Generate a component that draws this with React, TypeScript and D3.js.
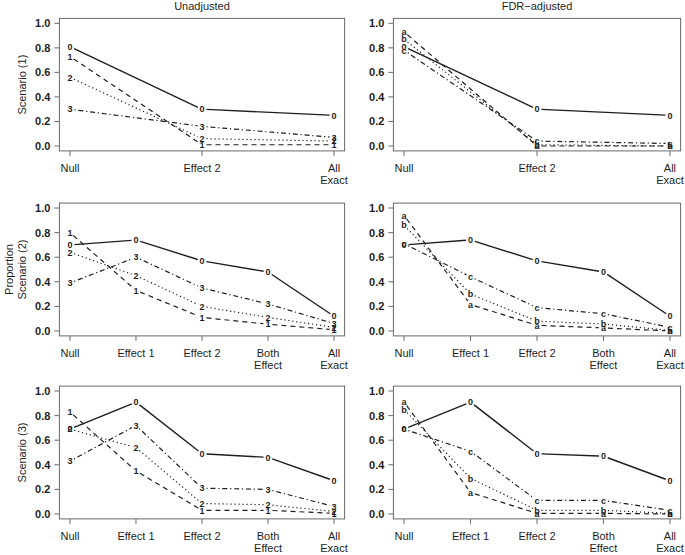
import React from "react";
import * as d3 from "d3";

// ---------- data ----------
const catsShort = ["Null", "Effect 2", "All\nExact"];
const catsShortPos = [1, 3, 5];
const catsLong = ["Null", "Effect 1", "Effect 2", "Both\nEffect", "All\nExact"];
const catsLongPos = [1, 2, 3, 4, 5];
const yTicks = [0, 0.2, 0.4, 0.6, 0.8, 1.0];
const colTitles = ["Unadjusted", "FDR\u2212adjusted"];
const rowLabels = ["Scenario (1)", "Scenario (2)", "Scenario (3)"];

const unadjKeys = ["0", "1", "2", "3"];
const fdrKeys = ["0", "a", "b", "c"];

// Scenario 1 (Null, Effect 2, All Exact)
const s1Unadj0 = [0.81, 0.30, 0.25];
const s1Unadj1 = [0.73, 0.01, 0.01];
const s1Unadj2 = [0.56, 0.06, 0.04];
const s1Unadj3 = [0.30, 0.16, 0.07];
const s1Fdr0 = [0.81, 0.30, 0.25];
const s1FdrA = [0.93, 0.00, 0.00];
const s1FdrB = [0.87, 0.01, 0.00];
const s1FdrC = [0.78, 0.04, 0.02];

// Scenario 2 (Null, Effect 1, Effect 2, Both Effect, All Exact)
const s2Unadj0 = [0.70, 0.74, 0.57, 0.48, 0.12];
const s2Unadj1 = [0.80, 0.33, 0.11, 0.055, 0.01];
const s2Unadj2 = [0.64, 0.45, 0.20, 0.11, 0.03];
const s2Unadj3 = [0.39, 0.60, 0.35, 0.22, 0.06];
const s2Fdr0 = [0.70, 0.74, 0.57, 0.48, 0.12];
const s2FdrA = [0.94, 0.215, 0.046, 0.025, 0.0];
const s2FdrB = [0.86, 0.30, 0.08, 0.057, 0.005];
const s2FdrC = [0.71, 0.44, 0.19, 0.14, 0.03];

// Scenario 3
const s3Unadj0 = [0.69, 0.91, 0.49, 0.46, 0.27];
const s3Unadj1 = [0.83, 0.35, 0.03, 0.03, 0.005];
const s3Unadj2 = [0.69, 0.54, 0.085, 0.075, 0.02];
const s3Unadj3 = [0.43, 0.72, 0.21, 0.20, 0.06];
const s3Fdr0 = [0.69, 0.91, 0.49, 0.47, 0.27];
const s3FdrA = [0.91, 0.175, 0.005, 0.005, 0.0];
const s3FdrB = [0.85, 0.29, 0.03, 0.03, 0.005];
const s3FdrC = [0.69, 0.51, 0.11, 0.11, 0.03];

// ---------- layout ----------
const W = 685;
const H = 555;
const colRanges: [number, number][] = [
  [59.4, 344.6],
  [393.4, 680.6],
];
const rowRanges: [number, number][] = [
  [150.9, 18.4],
  [335.9, 203.1],
  [518.9, 386.1],
];
const dashes = [null, "5,4", "1.2,2.8", "1.2,2.8,5,2.8"];
const FONT = "'Liberation Sans', Arial, Helvetica, sans-serif";
const AXIS_COL = "#6a6a6a";
const INK = "#1e1e1e";

type PanelSpec = {
  row: number;
  col: number;
  cats: string[];
  pos: number[];
  keys: string[];
  series: number[][];
};

const panels: PanelSpec[] = [
  { row: 0, col: 0, cats: catsShort, pos: catsShortPos, keys: unadjKeys, series: [s1Unadj0, s1Unadj1, s1Unadj2, s1Unadj3] },
  { row: 0, col: 1, cats: catsShort, pos: catsShortPos, keys: fdrKeys, series: [s1Fdr0, s1FdrA, s1FdrB, s1FdrC] },
  { row: 1, col: 0, cats: catsLong, pos: catsLongPos, keys: unadjKeys, series: [s2Unadj0, s2Unadj1, s2Unadj2, s2Unadj3] },
  { row: 1, col: 1, cats: catsLong, pos: catsLongPos, keys: fdrKeys, series: [s2Fdr0, s2FdrA, s2FdrB, s2FdrC] },
  { row: 2, col: 0, cats: catsLong, pos: catsLongPos, keys: unadjKeys, series: [s3Unadj0, s3Unadj1, s3Unadj2, s3Unadj3] },
  { row: 2, col: 1, cats: catsLong, pos: catsLongPos, keys: fdrKeys, series: [s3Fdr0, s3FdrA, s3FdrB, s3FdrC] },
];

function Panel({ p }: { p: PanelSpec }) {
  const x = d3.scaleLinear().domain([0.84, 5.16]).range(colRanges[p.col]);
  const y = d3.scaleLinear().domain([-0.04, 1.04]).range(rowRanges[p.row]);
  const [x0, x1] = x.range();
  const [yb, yt] = y.range();
  const gap = 4.5;

  return (
    <g>
      <rect x={x0} y={yt} width={x1 - x0} height={yb - yt} fill="none" stroke={AXIS_COL} strokeWidth={1} />
      {yTicks.map((t) => (
        <g key={t}>
          <line x1={x0 - 5} x2={x0} y1={y(t)} y2={y(t)} stroke={AXIS_COL} />
          <text x={x0 - 9} y={y(t)} dy="0.36em" textAnchor="end" fontSize={11} fontWeight="bold" fill={INK} fontFamily={FONT}>
            {t.toFixed(1)}
          </text>
        </g>
      ))}
      {p.pos.map((v, i) => (
        <g key={i}>
          <line x1={x(v)} x2={x(v)} y1={yb} y2={yb + 5} stroke={AXIS_COL} />
          <text x={x(v)} y={yb + 21} textAnchor="middle" fontSize={11} fill={INK} fontFamily={FONT}>
            {p.cats[i].split("\n").map((ln, k) => (
              <tspan key={k} x={x(v)} dy={k === 0 ? 0 : 12.5}>
                {ln}
              </tspan>
            ))}
          </text>
        </g>
      ))}
      {p.series.map((vals, si) => {
        const pts = vals.map((v, i) => [x(p.pos[i]), y(v)] as [number, number]);
        const segs = [];
        for (let i = 0; i < pts.length - 1; i++) {
          const [ax, ay] = pts[i];
          const [bx, by] = pts[i + 1];
          const len = Math.hypot(bx - ax, by - ay);
          if (len <= 2 * gap) continue;
          const ux = (bx - ax) / len;
          const uy = (by - ay) / len;
          segs.push(
            <line
              key={i}
              x1={ax + ux * gap}
              y1={ay + uy * gap}
              x2={bx - ux * gap}
              y2={by - uy * gap}
              stroke={INK}
              strokeWidth={si === 0 ? 1.4 : 1.2}
              strokeDasharray={dashes[si] ?? undefined}
            />
          );
        }
        return (
          <g key={si}>
            {segs}
            {pts.map(([px, py], i) => (
              <text key={i} x={px} y={py} dy="0.36em" textAnchor="middle" fontSize={9} fontWeight="bold" fill={INK} fontFamily={FONT}>
                {p.keys[si]}
              </text>
            ))}
          </g>
        );
      })}
    </g>
  );
}

export default function App() {
  return (
    <svg width={W} height={H} style={{ display: "block", position: "absolute", left: 0, top: 0, background: "#fff" }}>
      <rect width={W} height={H} fill="#fff" />
      {colTitles.map((t, c) => (
        <text key={t} x={(colRanges[c][0] + colRanges[c][1]) / 2} y={10} textAnchor="middle" fontSize={11} fill={INK} fontFamily={FONT}>
          {t}
        </text>
      ))}
      {rowLabels.map((t, r) => {
        const cy = (rowRanges[r][0] + rowRanges[r][1]) / 2;
        return (
          <text key={t} transform={`translate(26,${cy}) rotate(-90)`} textAnchor="middle" fontSize={11} fill={INK} fontFamily={FONT}>
            {t}
          </text>
        );
      })}
      <text transform={`translate(13,${(rowRanges[1][0] + rowRanges[1][1]) / 2}) rotate(-90)`} textAnchor="middle" fontSize={11} fill={INK} fontFamily={FONT}>
        Proportion
      </text>
      {panels.map((p, i) => (
        <Panel key={i} p={p} />
      ))}
    </svg>
  );
}
